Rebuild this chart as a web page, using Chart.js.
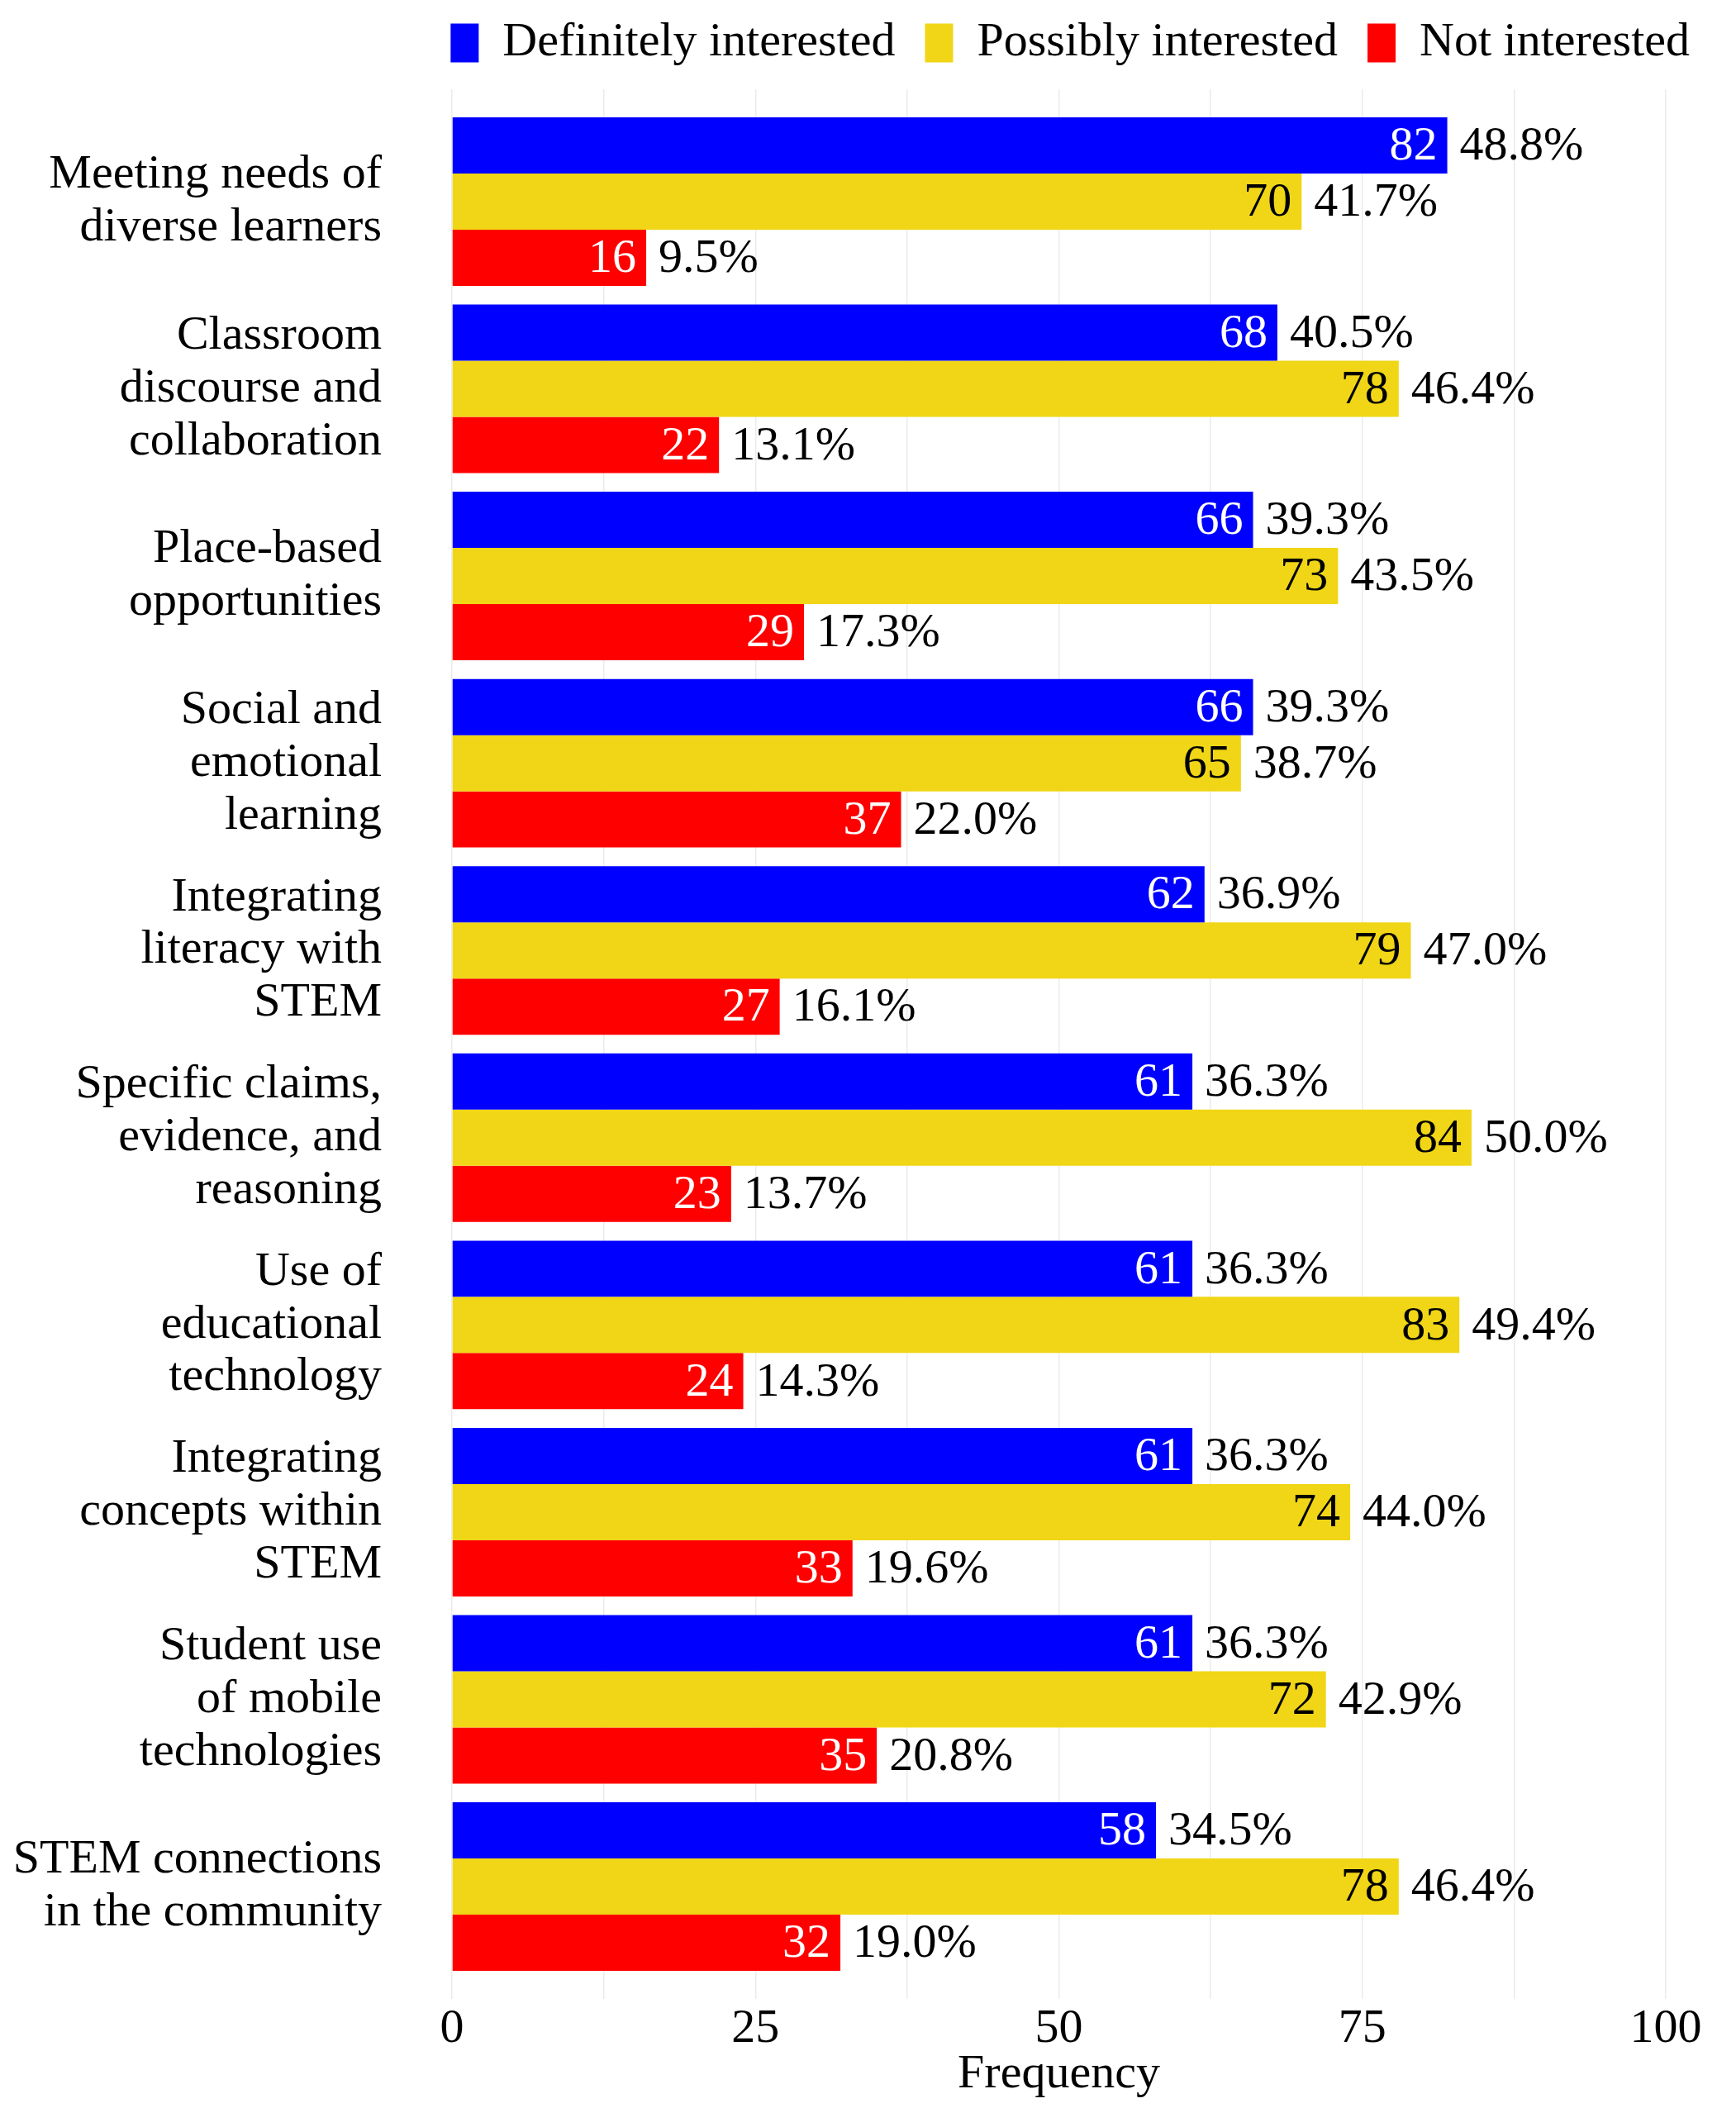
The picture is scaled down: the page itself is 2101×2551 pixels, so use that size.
<!DOCTYPE html>
<html>
<head>
<meta charset="utf-8">
<title>Interest in STEM PD topics</title>
<script src="https://cdn.jsdelivr.net/npm/chart.js@4.4.1/dist/chart.umd.min.js"></script>
<style>
  html, body { margin: 0; padding: 0; background: #ffffff; }
  #wrap { width: 2101px; height: 2551px; }
</style>
</head>
<body>
<div id="wrap"><canvas id="chart" width="2101" height="2551"></canvas></div>
<script>
// ── Data ─────────────────────────────────
const categories = [
  ["Meeting needs of", "diverse learners"],
  ["Classroom", "discourse and", "collaboration"],
  ["Place-based", "opportunities"],
  ["Social and", "emotional", "learning"],
  ["Integrating", "literacy with", "STEM"],
  ["Specific claims,", "evidence, and", "reasoning"],
  ["Use of", "educational", "technology"],
  ["Integrating", "concepts within", "STEM"],
  ["Student use", "of mobile", "technologies"],
  ["STEM connections", "in the community"],
];

const seriesNames = ["Definitely interested", "Possibly interested", "Not interested"];

const definitely = [82, 68, 66, 66, 62, 61, 61, 61, 61, 58];
const possibly   = [70, 78, 73, 65, 79, 84, 83, 74, 72, 78];
const notInt     = [16, 22, 29, 37, 27, 23, 24, 33, 35, 32];

const definitelyPct = ["48.8%", "40.5%", "39.3%", "39.3%", "36.9%", "36.3%", "36.3%", "36.3%", "36.3%", "34.5%"];
const possiblyPct   = ["41.7%", "46.4%", "43.5%", "38.7%", "47.0%", "50.0%", "49.4%", "44.0%", "42.9%", "46.4%"];
const notIntPct     = ["9.5%", "13.1%", "17.3%", "22.0%", "16.1%", "13.7%", "14.3%", "19.6%", "20.8%", "19.0%"];

const xTicks = [0, 25, 50, 75, 100];

// ── Styling ──────────────────────────────
const FONT   = "'Liberation Serif', 'Times New Roman', serif";
const SIZE   = 58;
const COLORS = ["#0000FF", "#F0D616", "#FF0000"];
const INNER_TEXT = ["#FFFFFF", "#000000", "#FFFFFF"];
const LEGEND_EXTRA = 17;   // extra room under the legend row

const values = [definitely, possibly, notInt];
const pcts   = [definitelyPct, possiblyPct, notIntPct];

// bars sit at y = 1..10 on a linear index axis (so the end padding can match)
const datasets = seriesNames.map((name, s) => ({
  label: name,
  data: values[s].map((v, i) => ({ x: v, y: i + 1 })),
  backgroundColor: COLORS[s],
  borderWidth: 0,
  categoryPercentage: 0.9,
  barPercentage: 1.0,
}));

// ── Bar labels: count inside, percent outside ──
const barLabels = {
  id: "barLabels",
  afterDatasetsDraw(chart) {
    const ctx = chart.ctx;
    ctx.save();
    ctx.font = `${SIZE}px ${FONT}`;
    ctx.textBaseline = "middle";
    chart.data.datasets.forEach((ds, s) => {
      const meta = chart.getDatasetMeta(s);
      meta.data.forEach((bar, i) => {
        ctx.fillStyle = INNER_TEXT[s];
        ctx.textAlign = "right";
        ctx.fillText(String(values[s][i]), bar.x - 12, bar.y + 2);
        ctx.fillStyle = "#000000";
        ctx.textAlign = "left";
        ctx.fillText(pcts[s][i], bar.x + 15, bar.y + 2);
      });
    });
    ctx.restore();
  }
};

// stretch the legend box downwards without moving its items
const legendRoom = {
  id: "legendRoom",
  beforeLayout(chart) {
    const lg = chart.legend;
    if (lg && !lg._roomAdded) {
      const fit = lg.fit.bind(lg);
      lg.fit = function () { fit(); this.height += LEGEND_EXTRA; };
      lg._roomAdded = true;
    }
  }
};

// ── Chart ────────────────────────────────
new Chart(document.getElementById("chart"), {
  type: "bar",
  data: { datasets },
  plugins: [legendRoom, barLabels],
  options: {
    indexAxis: "y",
    responsive: false,
    animation: false,
    layout: { padding: { top: -13, right: 20, bottom: 0, left: 0 } },
    plugins: {
      tooltip: { enabled: false },
      legend: {
        position: "top",
        align: "end",
        labels: {
          color: "#000000",
          font: { family: FONT, size: SIZE },
          boxWidth: 34,
          boxHeight: 47,
          padding: 36,
        }
      }
    },
    scales: {
      x: {
        type: "linear",
        min: 0,
        max: 100,
        border: { display: false },
        grid: { color: "#EBEBEB", lineWidth: 1.5, drawTicks: false },
        ticks: {
          stepSize: 12.5,
          color: "#000000",
          font: { family: FONT, size: SIZE },
          padding: 2,
          maxRotation: 0,
          callback: v => xTicks.includes(v) ? String(v) : "",
        },
        title: {
          display: true,
          text: "Frequency",
          color: "#000000",
          font: { family: FONT, size: SIZE },
          padding: { top: 0, bottom: 5 },
        },
        afterFit(scale) {
          scale.height = 132;
          scale.paddingRight = 85;
        },
      },
      y: {
        type: "linear",
        reverse: true,
        offset: false,
        min: 0.4,
        max: 10.6,
        border: { display: false },
        grid: { display: false, offset: false },
        afterBuildTicks(scale) {
          scale.ticks = categories.map((c, i) => ({ value: i + 1 }));
        },
        ticks: {
          color: "#000000",
          font: { family: FONT, size: SIZE, lineHeight: 1.1 },
          padding: 77,
          autoSkip: false,
          callback: v => categories[Math.round(v) - 1],
        },
        afterFit(scale) {
          scale.width = 547;
          scale.paddingTop = 0;
          scale.paddingBottom = 0;
        },
      }
    }
  }
});
</script>
</body>
</html>
